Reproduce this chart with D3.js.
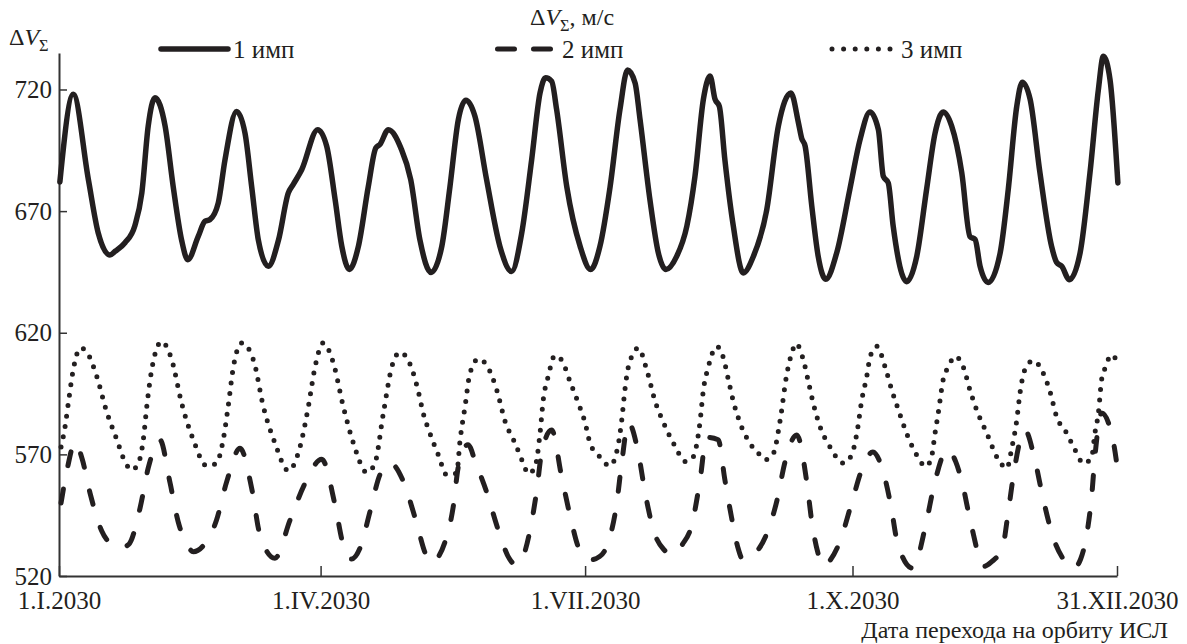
<!DOCTYPE html>
<html>
<head>
<meta charset="utf-8">
<script src="https://cdn.jsdelivr.net/npm/d3@7"></script>
<style>
	body { margin: 0; background: #fff; }
	text { font-family: "Liberation Serif", "Times New Roman", serif; fill: #231f20; }
</style>
</head>
<body>
<div id="chart"></div>
<script>
// [day of year, dV m/s]
var imp1 = [[0.3,682],[4.9,718],[10.1,683],[13.5,661],[17.5,652],[19.3,653.5],[22.7,657],[26.1,664],[28.5,677.5],[30.7,705],[33,716.6],[36.5,705],[39.3,680],[42.2,658],[44.3,650],[47.9,659.6],[50.2,665.8],[51.9,666.5],[54.8,673.4],[57.1,691],[61.1,711],[64,702],[66.3,680],[68.6,658],[72,647.3],[75.5,658],[78.9,677.5],[80.6,681],[83.5,687],[89,703.5],[92.1,696.7],[95,674.7],[97.3,655.5],[99.9,646],[103,655.5],[106.4,680],[109,696],[110.4,697.4],[113.3,703.5],[117.6,696],[121,683],[124.2,658],[128,644.8],[131.7,655.5],[134.5,680],[137.4,707.7],[140,715.6],[143.1,709],[147.1,683],[151.7,655.5],[155.7,645.2],[159.2,661],[162.6,691],[165.5,718.6],[167.4,724.8],[169.5,723.4],[171.2,711.8],[174.7,680],[179.3,655.5],[182.9,646],[186.1,655.5],[189.6,680],[193,711.8],[195.6,728],[198.2,722.7],[199.9,707.7],[203.3,674.7],[206.2,652.8],[208.8,646],[212.5,651.4],[216,663.8],[218.8,684.3],[221.7,716],[224,725.5],[225.7,716],[227.2,713],[229.1,691],[232,663.8],[235.4,644.6],[238.9,651.4],[243.5,670.6],[247.5,705],[251.8,718.6],[254.4,706.3],[255.5,700],[256.7,696.7],[259,672],[261.2,651.4],[263.8,642],[267.6,653],[272.1,679],[275.6,699.4],[279,710.7],[281.9,703.5],[283.6,684.3],[285.3,681.6],[287,663.8],[291.6,641],[295.1,651.4],[298.5,679],[301.4,702],[304.2,710.7],[307.1,705],[310.6,685.7],[313.4,659.6],[315.2,658.3],[316.9,647.3],[319.7,640.7],[323.8,652.8],[326.6,679],[329.5,713],[331.4,723],[334.1,716],[337.5,685.7],[341.5,655.5],[343.2,649],[345,647.3],[347.6,641.8],[351.3,652.8],[354.7,685.7],[357.6,720],[359.3,733.7],[361.6,724],[364.3,681.6]];

var imp2 = [[0.7,550],[3,565],[5.5,575],[8,568],[10.7,554],[14.7,538.5],[18,533],[21,531.5],[24,533],[27.9,548],[30.7,564.4],[34.7,576],[38.2,558.3],[41,542.3],[44,533],[46.2,530],[50,533],[54.2,543],[57.7,558.8],[62.3,572.5],[66.3,556],[69.2,536.6],[74.3,527.3],[79.5,543],[84.6,558],[90.4,568],[95,549],[97.8,532.7],[100.7,527],[103.6,531.6],[107,546.5],[110.4,561.6],[113.9,566.5],[118.5,558.8],[122.5,544],[126.5,528],[128,525.5],[132.8,534],[135.7,549],[137.4,565],[140.7,574],[143.5,566],[147.1,554.6],[151.1,539],[155,527],[157.4,524.5],[160,529],[162,538.5],[164.3,554.6],[166.1,571],[169.5,580],[172.9,561],[175.8,545],[179,531],[182.7,526.6],[186,528],[189,534],[191.9,550],[193.6,566.5],[195.9,583],[199.3,570.6],[201.6,554.6],[204.5,539],[208,531],[211.4,528.7],[214.5,533],[217.7,541],[220.5,559],[222.8,577],[226.8,576],[229.1,559.5],[231.4,544],[233.5,532],[235.4,526.6],[238,528],[242.9,535.7],[247,551],[249.8,567],[253.8,578],[257.3,558.3],[259,542.3],[261,530],[263,524],[265,526],[268.8,534.6],[272.7,550],[276.7,565.3],[280,571],[283,565],[286.2,549],[288.5,533.5],[293.7,523.2],[298.2,541],[301.1,557.5],[305.7,572],[308.5,567],[310.8,558],[313.6,542.3],[318.3,524],[321,526],[324.6,531.6],[326.6,546.5],[328.5,562.4],[332.3,580],[335.8,567.4],[338.6,551.7],[342,536],[345.5,527],[348.9,523],[351.5,527],[353.5,536.5],[355.3,553],[356.4,569],[358.7,587],[362.6,576],[364.4,562]];

var imp3 = [[0.7,573],[2.1,581.5],[3.2,591],[4.9,604.8],[7.4,613.8],[10.1,611],[13,602],[16.2,588.3],[19.9,576],[22.7,567],[25,563.6],[27.3,566.4],[29,576],[30.2,589.7],[31.9,604.8],[35.3,616.4],[38.8,608.8],[42.2,591],[46.2,576],[50.8,565.3],[54,566.2],[56.5,576],[58.2,589.7],[60,606],[62.9,615.8],[66.9,608.8],[70.3,589.7],[74.3,574.6],[78.9,563.3],[82.9,573],[85.8,589.7],[88.1,606],[90.9,615.8],[94.4,607.5],[97.8,589.7],[101.3,574.6],[105.9,562.6],[108.7,566.4],[111.6,587],[114.5,606],[117.3,612],[121.3,605.5],[123.6,596],[125.3,587],[127.6,578.7],[130.5,569.8],[133.4,561.6],[136.8,562.3],[138,576],[139.7,589.7],[141.4,603.4],[144.3,609.2],[147.7,605.5],[150.6,596.5],[153.5,583.5],[156.9,574.6],[159.7,566.4],[161.5,562],[163.8,565],[165.5,578.7],[166.6,592.4],[168.3,602],[170.6,610.6],[172.9,608.8],[175.8,600],[178.7,591],[181,583],[182.7,574.6],[185.5,569.8],[189.6,565.3],[192.4,574],[193.6,584],[194.7,596.5],[195.9,606],[199.3,613.7],[202.2,604.8],[205.1,591.8],[208,583],[211.4,574.6],[215.7,567],[218.2,569],[220.5,583],[221.7,596.5],[223.4,606],[226.3,614.4],[228.6,609.6],[230.3,600.7],[232,591.8],[234.3,583],[237.7,574.6],[240.6,570.5],[242.9,567.8],[245.8,570.5],[248.1,584],[250.4,603],[252.1,611.6],[253.6,615.5],[256.1,608.8],[257.8,600],[259.5,591],[261.8,581.5],[265.3,573],[269.8,566.4],[272.7,569.8],[274.5,578.7],[276.2,592.4],[277.9,602],[279.1,610.3],[281.4,614.4],[284.2,606],[286.5,596.5],[288.8,588.3],[291.6,578.7],[294.5,571],[298.3,565],[300.2,569],[301.4,578.7],[302.5,587],[304.2,600.7],[306,606],[308.3,610.3],[311.1,606],[313.4,596.5],[315.7,588.3],[319.2,578.7],[323.2,567.8],[326.1,564.3],[327.8,572.6],[329.5,584],[330.6,595],[332.3,604.8],[335.2,608.6],[338.6,603.4],[340.9,596],[343.2,585.6],[346.7,578.7],[349.5,572],[352.6,566.2],[355.3,569],[356.4,578.7],[357.6,587],[358.7,600.7],[359.9,605.5],[362.2,611],[364.4,607]];

var yTicks = [520, 570, 620, 670, 720];
var xTickDays = [0, 90, 181, 273, 364];
var xTickLabels = ["1.I.2030", "1.IV.2030", "1.VII.2030", "1.X.2030", "31.XII.2030"];
var legendLabels = ["1 имп", "2 имп", "3 имп"];

var width = 1187, height = 644;
var dark = "#231f20";
var t0 = Date.UTC(2030, 0, 1);
function toDate(day) { return new Date(t0 + day * 864e5); }

var svg = d3.select("#chart").append("svg")
	.attr("width", width)
	.attr("height", height);

var x = d3.scaleUtc()
	.domain([toDate(0), toDate(364)])
	.range([59, 1117]);

var y = d3.scaleLinear()
	.domain([520, 735])
	.range([576, 53]);

// axes, ticks point inward
var xAxis = d3.axisBottom(x)
	.tickValues(xTickDays.map(toDate))
	.tickFormat(function(d, i) { return xTickLabels[i]; })
	.tickSize(-10)
	.tickSizeOuter(0)
	.tickPadding(15);

var yAxis = d3.axisLeft(y)
	.tickValues(yTicks)
	.tickSize(-8)
	.tickSizeOuter(0)
	.tickPadding(7);

var gx = svg.append("g")
	.attr("transform", "translate(0," + y.range()[0] + ")")
	.call(xAxis);

var gy = svg.append("g")
	.attr("transform", "translate(" + x.range()[0] + ",0)")
	.call(yAxis);

[gx, gy].forEach(function(g) {
	g.select(".domain").attr("stroke", "#333").attr("stroke-width", 2);
	g.selectAll(".tick line").attr("stroke", "#333").attr("stroke-width", 1.5);
	g.selectAll(".tick text")
		.attr("fill", dark)
		.style("font-family", '"Liberation Serif", serif')
		.style("font-size", "25px");
});

// curves
var line = d3.line()
	.x(function(d) { return x(toDate(d[0])); })
	.y(function(d) { return y(d[1]); })
	.curve(d3.curveMonotoneX);

var styles = [
	{ data: imp1, width: 5.5, dash: null, cap: "round" },
	{ data: imp2, width: 5, dash: "14,24", cap: "round" },
	{ data: imp3, width: 5, dash: "0,10.5", cap: "round" }
];

styles.slice().reverse().forEach(function(s) {
	svg.append("path")
		.datum(s.data)
		.attr("d", line)
		.attr("fill", "none")
		.attr("stroke", dark)
		.attr("stroke-width", s.width)
		.attr("stroke-linejoin", "round")
		.attr("stroke-linecap", s.cap)
		.attr("stroke-dasharray", s.dash);
});

// legend
var legendItems = [
	{ x1: 161, x2: 228, dash: null, tx: 233 },
	{ x1: 497.5, x2: 551, dash: "17,19", tx: 562 },
	{ x1: 832, x2: 890.5, dash: "0,11.6", tx: 901 }
];

legendItems.forEach(function(it, i) {
	svg.append("path")
		.attr("d", "M" + it.x1 + ",49H" + it.x2)
		.attr("stroke", dark)
		.attr("stroke-width", styles[i].width)
		.attr("stroke-linecap", "round")
		.attr("stroke-dasharray", it.dash);
	svg.append("text")
		.attr("x", it.tx)
		.attr("y", 58)
		.style("font-size", "25px")
		.text(legendLabels[i]);
});

// ΔV_Σ labels
function dvLabel(xp, yp, size, suffix) {
	var t = svg.append("text")
		.attr("x", xp)
		.attr("y", yp)
		.style("font-size", size + "px");
	t.append("tspan").text("Δ");
	t.append("tspan").style("font-style", "italic").text("V");
	t.append("tspan")
		.attr("dy", size * 0.25)
		.style("font-size", (size * 0.68) + "px")
		.text("Σ");
	if (suffix) {
		t.append("tspan").attr("dy", -size * 0.25).text(suffix);
	}
}
dvLabel(530, 25, 24, ", м/с");
dvLabel(9, 45, 24);

svg.append("text")
	.attr("x", 1168)
	.attr("y", 638)
	.attr("text-anchor", "end")
	.style("font-size", "24px")
	.text("Дата перехода на орбиту ИСЛ");
</script>
</body>
</html>
